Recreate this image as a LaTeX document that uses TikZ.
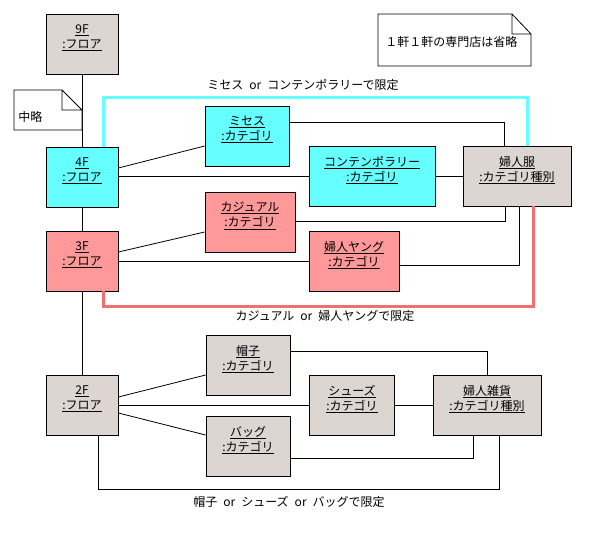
\documentclass[tikz,border=0pt]{standalone}
\usepackage{fontspec}
\newfontfamily\jpfont{Noto Sans CJK JP}
\definecolor{objgray}{RGB}{221,213,210}
\definecolor{objcyan}{RGB}{102,255,255}
\definecolor{objred}{RGB}{255,153,153}
\definecolor{loopred}{RGB}{238,112,112}
\newcommand\objtext[2]{\underline{#1}\\\underline{:#2}\\\mbox{}}
\newcommand\orword{\hspace{6pt}\makebox[12pt]{or}\hspace{6pt}}
\tikzset{
  obj/.style = {draw = black, line width = 0.8pt, align = center, inner sep = 0pt, minimum height = 60pt, font = \jpfont\fontsize{12}{15}\selectfont},
  floorbox/.style = {obj, fill = objgray, minimum width = 72pt},
  plaintext/.style = {inner sep = 0pt, font = \jpfont\fontsize{12}{15}\selectfont},
  cyanloop/.style = {draw = objcyan, line width = 3pt},
  redloop/.style = {draw = loopred, line width = 3pt}
}
\begin{document}
\begin{tikzpicture}[x = 1pt, y = -1pt, line width = 0.8pt]
\useasboundingbox (0,0) rectangle (596,533);
% floors
\node [floorbox] (f9) at (82,44) {\objtext{9F}{フロア}};
\node [floorbox, fill = objcyan] (f4) at (82,177) {\objtext{4F}{フロア}};
\node [floorbox, fill = objred] (f3) at (82,261) {\objtext{3F}{フロア}};
\node [floorbox] (f2) at (82,405) {\objtext{2F}{フロア}};
\draw (f9) -- (f4);
\draw (f4) -- (f3);
\draw (f3) -- (f2);
% notes
\draw [fill = white] (14,90) -- (62,90) -- (82,110) -- (82,130) -- (14,130) -- cycle (62,90) -- (62,110) -- (82,110);
\node [plaintext, anchor = west] (skipnote) at (18,117) {中略};
\draw [fill = white] (378,14) -- (512,14) -- (531,34) -- (531,66) -- (378,66) -- cycle (512,14) -- (512,34) -- (531,34);
\node [plaintext, anchor = west] (shopnote) at (385,42) {１軒１軒の専門店は省略};
% categories
\node [obj, fill = objcyan, minimum width = 84pt] (misses) at (247,136) {\objtext{ミセス}{カテゴリ}};
\node [obj, fill = objcyan, minimum width = 126pt] (contemp) at (372,176) {\objtext{コンテンポラリー}{カテゴリ}};
\node [obj, fill = objred, minimum width = 90pt] (casual) at (250,222) {\objtext{カジュアル}{カテゴリ}};
\node [obj, fill = objred, minimum width = 90pt] (young) at (354,261) {\objtext{婦人ヤング}{カテゴリ}};
\node [obj, fill = objgray, minimum width = 108pt] (fujinfuku) at (517,176) {\objtext{婦人服}{カテゴリ種別}};
\node [obj, fill = objgray, minimum width = 84pt] (hat) at (248,365) {\objtext{帽子}{カテゴリ}};
\node [obj, fill = objgray, minimum width = 85pt] (shoes) at (352,405) {\objtext{シューズ}{カテゴリ}};
\node [obj, fill = objgray, minimum width = 84pt] (bag) at (248,446) {\objtext{バッグ}{カテゴリ}};
\node [obj, fill = objgray, minimum width = 108pt] (zakka) at (487,405) {\objtext{婦人雑貨}{カテゴリ種別}};
% 4F
\draw ([yshift = 9pt]f4.east) -- ([yshift = -10pt]misses.west);
\draw ([yshift = 1pt]f4.east) -- (contemp.west);
\draw ([yshift = 14pt]misses.east) -| ([xshift = -13pt]fujinfuku.north);
\draw (contemp) -- (fujinfuku);
% 3F
\draw ([yshift = 9pt]f3.east) -- ([yshift = -10pt]casual.west);
\draw (f3) -- (young);
\draw ([yshift = 1pt]casual.east) -| ([xshift = -12pt]fujinfuku.south);
\draw ([yshift = -4pt]young.east) -| ([xshift = 2pt]fujinfuku.south);
% 2F
\draw ([yshift = 8pt]f2.east) -- ([yshift = -10pt]hat.west);
\draw (f2) -- (shoes);
\draw ([yshift = -8pt]f2.east) -- ([yshift = 11pt]bag.west);
\draw (shoes) -- (zakka);
\draw ([yshift = 14pt]hat.east) -| (zakka.north);
\draw ([yshift = -12pt]bag.east) -| ([xshift = -14pt]zakka.south);
% limits
\draw [cyanloop] ([xshift = 21pt]f4.north) |- ([xshift = 10pt, yshift = 48pt]fujinfuku.north) -- ([xshift = 10pt]fujinfuku.north);
\node [plaintext] (cyanlabel) at (303,85) {ミセス\orword コンテンポラリーで限定};
\draw [redloop] ([xshift = 16pt]fujinfuku.south) |- ([xshift = 21pt, yshift = -15pt]f3.south) -- ([xshift = 21pt]f3.south);
\node [plaintext] (redlabel) at (325,316) {カジュアル\orword 婦人ヤングで限定};
\draw ([xshift = 16pt]f2.south) |- ([xshift = 12pt, yshift = -54pt]zakka.south) -- ([xshift = 12pt]zakka.south);
\node [plaintext] (graylabel) at (289,502) {帽子\orword シューズ\orword バッグで限定};
\end{tikzpicture}
\end{document}
